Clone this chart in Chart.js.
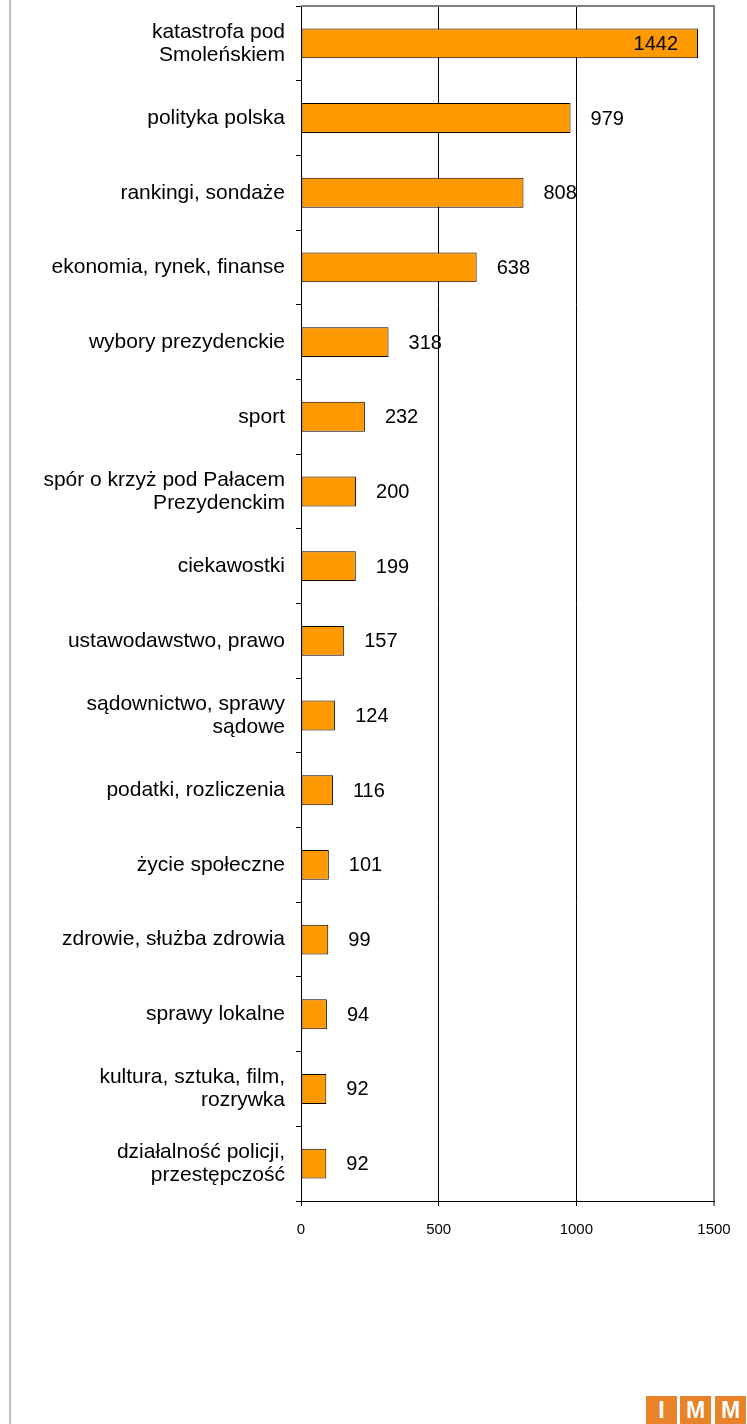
<!DOCTYPE html>
<html>
<head>
<meta charset="utf-8">
<script src="https://cdn.jsdelivr.net/npm/chart.js@4"></script>
<style>
  html, body { margin: 0; padding: 0; background: #fff; }
  #wrap { position: relative; width: 747px; height: 1424px; overflow: hidden; }
  #c { position: absolute; left: 0; top: 0; }
  .logo { position: absolute; top: 1396px; width: 31px; height: 28px; background: #E8832A;
          color: #fff; font-family: "Liberation Sans", Arial, sans-serif; font-weight: bold;
          font-size: 23px; line-height: 29px; text-align: center; }
</style>
</head>
<body>
<div id="wrap">
  <canvas id="c" width="747" height="1424"></canvas>
  <div class="logo" style="left:646px">I</div>
  <div class="logo" style="left:680px">M</div>
  <div class="logo" style="left:715px">M</div>
</div>
<script>
const categories = [
  ["katastrofa pod", "Smoleńskiem"],
  "polityka polska",
  "rankingi, sondaże",
  "ekonomia, rynek, finanse",
  "wybory prezydenckie",
  "sport",
  ["spór o krzyż pod Pałacem", "Prezydenckim"],
  "ciekawostki",
  "ustawodawstwo, prawo",
  ["sądownictwo, sprawy", "sądowe"],
  "podatki, rozliczenia",
  "życie społeczne",
  "zdrowie, służba zdrowia",
  "sprawy lokalne",
  ["kultura, sztuka, film,", "rozrywka"],
  ["działalność policji,", "przestępczość"]
];
const values = [1442, 979, 808, 638, 318, 232, 200, 199, 157, 124, 116, 101, 99, 94, 92, 92];
const xTicks = [0, 500, 1000, 1500];

const FONT = '"Liberation Sans", Arial, sans-serif';

const framePlugin = {
  id: 'frame',
  beforeDraw(chart) {
    const ctx = chart.ctx;
    ctx.save();
    ctx.fillStyle = '#c0c0c0';
    ctx.fillRect(9, 0, 2, chart.height);
    ctx.restore();
  },
  afterDraw(chart) {
    const {ctx, chartArea} = chart;
    ctx.save();
    ctx.strokeStyle = '#808080';
    ctx.lineWidth = 2;
    ctx.beginPath();
    ctx.moveTo(chartArea.left, chartArea.top);
    ctx.lineTo(chartArea.right + 1, chartArea.top);
    ctx.stroke();
    ctx.restore();
  }
};

const valueLabels = {
  id: 'valueLabels',
  afterDatasetsDraw(chart) {
    const ctx = chart.ctx;
    const meta = chart.getDatasetMeta(0);
    const data = chart.data.datasets[0].data;
    ctx.save();
    ctx.font = '20px ' + FONT;
    ctx.fillStyle = '#000';
    ctx.textBaseline = 'middle';
    meta.data.forEach((bar, i) => {
      const txt = String(data[i]);
      const w = ctx.measureText(txt).width;
      if (bar.x + 20 + w > chart.chartArea.right) {
        ctx.textAlign = 'right';
        ctx.fillText(txt, bar.x - 20, bar.y + 1);
      } else {
        ctx.textAlign = 'left';
        ctx.fillText(txt, bar.x + 20, bar.y + 1);
      }
    });
    ctx.restore();
  }
};

new Chart(document.getElementById('c'), {
  type: 'bar',
  data: {
    labels: categories,
    datasets: [{
      data: values,
      backgroundColor: '#FF9900',
      borderColor: '#000',
      borderWidth: 1,
      borderSkipped: false,
      barPercentage: 0.40,
      categoryPercentage: 1.0
    }]
  },
  options: {
    indexAxis: 'y',
    responsive: false,
    animation: false,
    devicePixelRatio: 1,
    layout: { padding: { top: 6, right: 33, left: 0, bottom: 0 } },
    plugins: { legend: { display: false }, tooltip: { enabled: false } },
    scales: {
      x: {
        min: 0, max: 1500,
        afterBuildTicks(scale) { scale.ticks = xTicks.map(v => ({ value: v })); },
        afterFit(scale) { scale.height = 223; scale.paddingLeft = 0; scale.paddingRight = 0; },
        ticks: { font: { size: 15, family: FONT }, color: '#000', padding: 15, maxRotation: 0,
                 callback: v => String(v) },
        grid: {
          color: ctx => (ctx.tick && ctx.tick.value === 1500) ? '#808080' : '#000',
          lineWidth: ctx => (ctx.tick && ctx.tick.value === 1500) ? 2 : 1,
          tickLength: 5,
          tickColor: '#000',
          tickWidth: 1
        },
        border: { color: '#000', width: 1 }
      },
      y: {
        afterFit(scale) { scale.width = 301; scale.paddingTop = 0; scale.paddingBottom = 0; },
        ticks: { font: { size: 21, family: FONT, lineHeight: 1.1 }, color: '#000', padding: 11, autoSkip: false },
        grid: { drawOnChartArea: false, tickLength: 5, color: '#000', offset: true },
        border: { color: '#000', width: 1 }
      }
    }
  },
  plugins: [framePlugin, valueLabels]
});
</script>
</body>
</html>
